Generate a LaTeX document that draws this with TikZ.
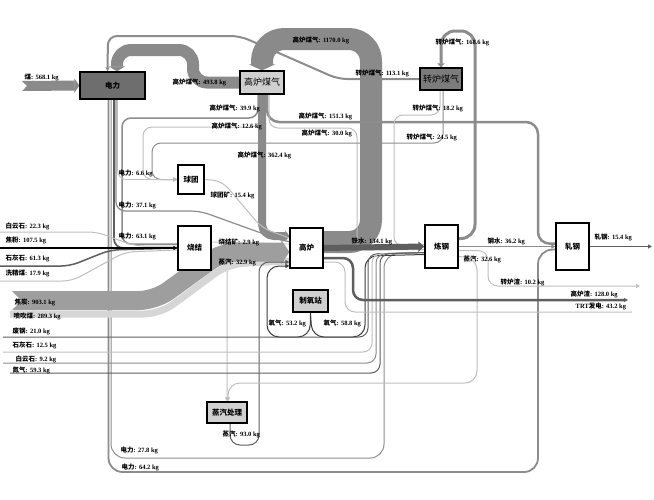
\documentclass[tikz,border=0pt]{standalone}
\usepackage{fontspec}
\setmainfont{Liberation Serif}
\newfontfamily\cjkfont{Noto Sans CJK SC}
\usetikzlibrary{arrows.meta, positioning, backgrounds}
\definecolor{BandGray}{HTML}{8A8A8A}
\definecolor{CokeGray}{HTML}{9E9E9E}
\definecolor{PciGray}{HTML}{D6D6D6}
\definecolor{FlowGray}{HTML}{8C8C8C}
\definecolor{LightFlow}{HTML}{BEBEBE}
\definecolor{DarkFlow}{HTML}{3C3C3C}
\definecolor{IronGray}{HTML}{5E5E5E}
\definecolor{PowerFill}{HTML}{6E6E6E}
\definecolor{BofgFill}{HTML}{7C7C7C}
\definecolor{LightFill}{HTML}{D0D0D0}
\newcommand{\flowtxt}[2]{{\cjkfont #1}: #2 kg}
\tikzset{
  % Box styles
  unitbox/.style={rectangle, draw=black, line width=1.2pt, fill=white, inner sep=0pt, font=\cjkfont\bfseries\fontsize{7.5}{8}\selectfont},
  lightunit/.style={unitbox, fill=LightFill},
  darkunit/.style={unitbox, fill=PowerFill},
  bigtext/.style={font=\cjkfont\fontsize{9}{10}\selectfont},
  % Flow styles
  bandflow/.style={draw=BandGray, line join=round},
  lineflow/.style={draw=FlowGray, line width=1pt, rounded corners=9pt},
  arr/.style={-{Triangle[length=4pt,width=4pt]}},
  % Label style
  flowlabel/.style={font=\bfseries\fontsize{6.5}{7}\selectfont, inner sep=0.5pt, anchor=west}
}
\begin{document}
\begin{tikzpicture}[x=1pt, y=-1pt]
  \useasboundingbox (0,0) rectangle (654,499);

  % Units
  \node[darkunit, minimum width=65pt, minimum height=27pt] (elec) at (112.5,85.5) {电力};
  \node[lightunit, bigtext, minimum width=44pt, minimum height=23pt] (bfg) at (262,82.5) {高炉煤气};
  \node[darkunit, bigtext, fill=BofgFill, minimum width=42pt, minimum height=22pt] (bofg) at (441,79) {转炉煤气};
  \node[unitbox, minimum width=26pt, minimum height=29pt] (pellet) at (191,179.5) {球团};
  \node[unitbox, minimum width=33pt, minimum height=44pt] (sinter) at (194.5,248) {烧结};
  \node[unitbox, minimum width=33pt, minimum height=40pt] (bf) at (306.5,248) {高炉};
  \node[lightunit, minimum width=35pt, minimum height=22pt] (oxy) at (310.5,301) {制氧站};
  \node[unitbox, minimum width=33pt, minimum height=43pt] (bof) at (441.5,246.5) {炼钢};
  \node[unitbox, minimum width=33pt, minimum height=47pt] (roll) at (572.5,246.5) {轧钢};
  \node[lightunit, minimum width=40pt, minimum height=21pt] (steam) at (227,412.5) {蒸汽处理};

  % Free ends
  \coordinate (coalin) at (22,86);
  \coordinate (cokein) at (12,300.5);
  \coordinate (pciin) at (10,314);
  \coordinate (doloa) at (0,232);
  \coordinate (breeze) at (0,248);
  \coordinate (limea) at (0,266);
  \coordinate (washcoal) at (0,281);
  \coordinate (scrap) at (3,337);
  \coordinate (limeb) at (3,352);
  \coordinate (dolob) at (3,363);
  \coordinate (nitro) at (10,373);
  \coordinate (slagbf) at (628,300);
  \coordinate (trt) at (632,312);
  \coordinate (slagbof) at (640,286);
  \coordinate (rollout) at (652,246.5);

  \begin{scope}[on background layer]
    % Gas and coal into power
    \draw[bandflow, line width=10pt, {Triangle Cap[reversed]}-{Triangle[length=5pt,width=14pt]}] (coalin) -- (elec.west);
    \draw[bandflow, line width=12pt, rounded corners=14pt, -{Triangle[length=5pt,width=16pt]}] (bfg.west) -- (193,82.5) -- (193,50) -- (117,50) -- ([xshift=4.5pt]elec.north);
    \draw[lineflow, line width=2pt, arr] (bofg.west) -- (338,79) -- (240,36) -- (108,36) -- ([xshift=-5pt]elec.north);

    % Blast furnace gas
    \draw[bandflow, line width=22pt, rounded corners=22pt, -{Triangle[length=6pt,width=26pt]}] ([yshift=6pt]bf.east) -- (371,242) -- (371,39) -- (262,39) -- (bfg.north);
    \draw[lineflow, draw=FlowGray, line width=1.5pt] ([xshift=-4pt]bfg.south) -- (258,118) -- (122,118) -- (122,244) -- ([yshift=4pt]sinter.west);
    \draw[lineflow, draw=LightFlow] ([xshift=-2pt]bfg.south) -- (260,127) -- (143,127) -- (143,179.5) -- (pellet.west);
    \draw[lineflow, line width=2.5pt, rounded corners=12pt] ([xshift=5pt]bfg.south) -- (267,122) -- (538,122) -- (538,244) -- ([yshift=3pt]roll.west);
    \draw[lineflow, draw=LightFlow] ([xshift=7pt]bfg.south) -- (269,128) -- (357,128) -- (357,250) -- ([yshift=-3pt]bof.west);
    \draw[bandflow, line width=8pt, rounded corners=12pt, -{Triangle[length=4pt,width=11pt]}] (bfg.south) -- (262,236) -- ([yshift=12pt]bf.west);

    % Converter gas
    \draw[lineflow, line width=3pt, rounded corners=14pt, -{Triangle[length=4pt,width=7pt]}] ([yshift=8pt]bof.east) -- (475,238.5) -- (475,31) -- (441,31) -- (bofg.north);
    \draw[lineflow, draw=LightFlow] ([xshift=-1pt]bofg.south) -- (440,115) -- (394,115) -- (394,246) -- ([yshift=2pt]bof.west);
    \draw[lineflow, arr] ([xshift=2pt]bofg.south) -- (443,143) -- (152,143) -- (152,179.5) -- (pellet.west);

    % Power out
    \draw[lineflow, line width=1.8pt, rounded corners=14pt] ([xshift=-4pt]elec.south) -- (108.5,472) -- (538,472) -- (538,250) -- ([yshift=-3pt]roll.west);
    \draw[lineflow, rounded corners=14pt] ([xshift=-1.5pt]elec.south) -- (111,458) -- (384,458) -- (384,254) -- ([yshift=-6pt]bof.west);
    \draw[lineflow, draw=IronGray, line width=1.8pt] ([xshift=1.5pt]elec.south) -- (114,248) -- (sinter.west);
    \draw[lineflow, line width=1.2pt] ([xshift=3.5pt]elec.south) -- (116,211) -- (200,211) -- (286,242) -- ([yshift=6pt]bf.west);
    \draw[lineflow, draw=LightFlow, line width=0.8pt, arr] ([xshift=5pt]elec.south) -- (117.5,179.5) -- (pellet.west);

    % Raw materials into sinter
    \draw[lineflow, draw=LightFlow] (doloa) -- (97,232) -- (135,246) -- ([yshift=2pt]sinter.west);
    \draw[lineflow, draw=IronGray, line width=1.5pt] (limea) -- (70,266) -- (110,250) -- (sinter.west);
    \draw[lineflow, draw=LightFlow] (washcoal) -- (72,281) -- (125,252) -- ([yshift=-2pt]sinter.west);
    \draw[lineflow, draw=black, line width=2pt, arr] (breeze) -- (sinter.west);

    % Pellet and sinter to blast furnace
    \draw[lineflow, draw=LightFlow] (pellet.east) -- (222,181) -- (262,228) -- ([yshift=10pt]bf.west);
    \draw[lineflow, draw=LightFlow, line width=0.8pt] ([yshift=6pt]sinter.east) -- ([yshift=4pt]bf.west);
    \draw[lineflow, draw=LightFlow, rounded corners=8pt, arr] ([yshift=-13pt]sinter.east) -- (227,261) -- (steam.north);

    % Coke and coal injection
    \draw[bandflow, draw=PciGray, line width=7pt, rounded corners=16pt] (pciin) -- (160,314) -- (228,264) -- ([yshift=-13pt]bf.west);
    \draw[bandflow, draw=CokeGray, line width=19pt, rounded corners=16pt, {Triangle Cap[reversed]}-{Triangle[length=8pt,width=24pt]}] (cokein) -- (155,300.5) -- (222,252) -- ([yshift=-4pt]bf.west);

    % Oxygen and steam loops
    \draw[lineflow, draw=DarkFlow, rounded corners=12pt, arr] (oxy.south) -- (310,337) -- (267,337) -- (267,266) -- ([yshift=-18pt]bf.west);
    \draw[lineflow, draw=DarkFlow, rounded corners=12pt] (oxy.south) -- (312,337) -- (365,337) -- (365,256) -- ([yshift=-8pt]bof.west);
    \draw[lineflow, draw=IronGray, rounded corners=10pt, arr] ([xshift=3pt]steam.south) -- (230,445) -- (259,445) -- (259,262) -- ([yshift=-14pt]bf.west);
    \draw[lineflow, draw=LightFlow, rounded corners=12pt, arr] ([yshift=-10pt]bof.east) -- (477,258) -- (477,383) -- (228,383) -- ([xshift=1pt]steam.north);

    % Scrap and fluxes into steelmaking
    \draw[lineflow, draw=IronGray] (scrap) -- (368,337) -- (368,254) -- ([yshift=-6pt]bof.west);
    \draw[lineflow, draw=LightFlow] (limeb) -- (372,352) -- (372,254) -- ([yshift=-6pt]bof.west);
    \draw[lineflow] (dolob) -- (376,363) -- (376,254) -- ([yshift=-6pt]bof.west);
    \draw[lineflow, draw=IronGray] (nitro) -- (380,373) -- (380,254) -- ([yshift=-6pt]bof.west);

    % Hot metal and furnace outputs
    \draw[bandflow, draw=IronGray, line width=6pt, -{Triangle[length=6pt,width=10pt]}] (bf.east) -- (bof.west);
    \draw[lineflow, draw=IronGray, line width=2.5pt, rounded corners=10pt, arr] ([yshift=-10pt]bf.east) -- (353,258) -- (353,300) -- (slagbf);
    \draw[lineflow, draw=LightFlow, rounded corners=10pt] ([yshift=-14pt]bf.east) -- (345,262) -- (345,312) -- (trt);

    % Steelmaking and rolling
    \draw[lineflow, draw=LightFlow, rounded corners=10pt, arr] ([yshift=-4pt]bof.east) -- (488,250.5) -- (488,286) -- (slagbof);
    \draw[lineflow, line width=1.5pt, arr] (bof.east) -- (roll.west);
    \draw[lineflow, draw=IronGray, arr] (roll.east) -- (rollout);
  \end{scope}

  % Labels
  \node[flowlabel] (lcoal) at (24,77) {\flowtxt{煤}{568.1}};
  \node[flowlabel] (lbfga) at (172,82) {\flowtxt{高炉煤气}{493.8}};
  \node[flowlabel] (lbfgb) at (292,40) {\flowtxt{高炉煤气}{1170.0}};
  \node[flowlabel] (lbofga) at (435,42) {\flowtxt{转炉煤气}{168.6}};
  \node[flowlabel] (lbofgb) at (355,73) {\flowtxt{转炉煤气}{113.1}};
  \node[flowlabel] (lbfgc) at (209,108) {\flowtxt{高炉煤气}{39.9}};
  \node[flowlabel] (lbfgd) at (298,116) {\flowtxt{高炉煤气}{151.3}};
  \node[flowlabel] (lbfge) at (211,126) {\flowtxt{高炉煤气}{12.6}};
  \node[flowlabel] (lbfgf) at (301,133) {\flowtxt{高炉煤气}{30.0}};
  \node[flowlabel] (lbofgc) at (412,108) {\flowtxt{转炉煤气}{18.2}};
  \node[flowlabel] (lbofgd) at (406,137) {\flowtxt{转炉煤气}{24.5}};
  \node[flowlabel] (lbfgg) at (237,155) {\flowtxt{高炉煤气}{362.4}};
  \node[flowlabel] (lelea) at (118,173) {\flowtxt{电力}{6.6}};
  \node[flowlabel] (lpellet) at (210,195) {\flowtxt{球团矿}{15.4}};
  \node[flowlabel] (leleb) at (118,205) {\flowtxt{电力}{37.1}};
  \node[flowlabel] (ldoloa) at (5,226) {\flowtxt{白云石}{22.3}};
  \node[flowlabel] (lelec) at (118,236) {\flowtxt{电力}{63.1}};
  \node[flowlabel] (lbreeze) at (5,240) {\flowtxt{焦粉}{107.5}};
  \node[flowlabel] (lsinter) at (218,242) {\flowtxt{烧结矿}{2.9}};
  \node[flowlabel] (liron) at (351,241) {\flowtxt{铁水}{134.1}};
  \node[flowlabel] (lsteel) at (487,241) {\flowtxt{钢水}{36.2}};
  \node[flowlabel] (lroll) at (594,237) {\flowtxt{轧钢}{15.4}};
  \node[flowlabel] (llimea) at (5,258) {\flowtxt{石灰石}{61.3}};
  \node[flowlabel] (lsteama) at (218,262) {\flowtxt{蒸汽}{32.9}};
  \node[flowlabel] (lsteamb) at (463,259) {\flowtxt{蒸汽}{32.6}};
  \node[flowlabel] (lwash) at (5,273) {\flowtxt{洗精煤}{17.9}};
  \node[flowlabel] (lslagbof) at (500,282) {\flowtxt{转炉渣}{10.2}};
  \node[flowlabel] (lslagbf) at (570,294) {\flowtxt{高炉渣}{128.0}};
  \node[flowlabel] (lcoke) at (14,302) {\flowtxt{焦炭}{903.1}};
  \node[flowlabel] (ltrt) at (575,306) {TRT{\cjkfont 发电}: 43.2 kg};
  \node[flowlabel] (lpci) at (13,316) {\flowtxt{喷吹煤}{289.3}};
  \node[flowlabel] (loxya) at (268,323) {\flowtxt{氧气}{53.2}};
  \node[flowlabel] (loxyb) at (323,323) {\flowtxt{氧气}{58.8}};
  \node[flowlabel] (lscrap) at (12,331) {\flowtxt{废钢}{21.0}};
  \node[flowlabel] (llimeb) at (12,345) {\flowtxt{石灰石}{12.5}};
  \node[flowlabel] (ldolob) at (15,359) {\flowtxt{白云石}{9.2}};
  \node[flowlabel] (lnitro) at (12,370) {\flowtxt{氮气}{59.3}};
  \node[flowlabel] (lsteamc) at (222,434) {\flowtxt{蒸汽}{93.0}};
  \node[flowlabel] (leled) at (120,450) {\flowtxt{电力}{27.8}};
  \node[flowlabel] (lelee) at (121,467) {\flowtxt{电力}{64.2}};
\end{tikzpicture}
\end{document}
